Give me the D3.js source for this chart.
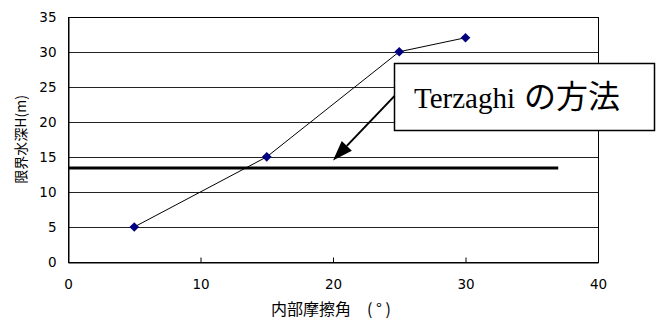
<!DOCTYPE html>
<html>
<head>
<meta charset="utf-8">
<script src="https://cdn.jsdelivr.net/npm/d3@7"></script>
<style>
  html, body { margin: 0; padding: 0; background: #fff; }
  svg { display: block; }
</style>
</head>
<body>
<div id="chart"></div>
<script>
// Internal friction angle (deg) vs critical water depth H (m)
const angles = [5, 15, 25, 30];
const depths = [5, 15, 30, 32];

// Terzaghi method: constant critical depth
const terzaghiDepth = 13.4;
const terzaghiRange = [0, 37];

// Axis ticks
const xTicks = [0, 10, 20, 30, 40];
const yTicks = [0, 5, 10, 15, 20, 25, 30, 35];

// Annotation (data units): callout box and arrow
const calloutText = ["Terzaghi", "の方法"];
const calloutBox = { x0: 24.6, x1: 44.2, y0: 28.4, y1: 18.8 };
const arrowFrom = [24.65, 23.7];
const arrowTo = [20.0, 14.5];

const W = 658, H = 320;
const margin = { left: 68, right: 60, top: 16.7, bottom: 58 };

const svg = d3.select("#chart").append("svg")
  .attr("width", W).attr("height", H);

const x = d3.scaleLinear().domain([0, 40]).range([margin.left, W - margin.right]);
const y = d3.scaleLinear().domain([0, 35]).range([H - margin.bottom, margin.top]);

const tickFont = "'DejaVu Sans', sans-serif";
const cjkFont = "'Noto Sans CJK JP', sans-serif";

// Horizontal gridlines
svg.append("g")
  .selectAll("line")
  .data(yTicks.filter(d => d > 0 && d < 35))
  .join("line")
  .attr("x1", x(0)).attr("x2", x(40))
  .attr("y1", d => Math.round(y(d)) + 0.5).attr("y2", d => Math.round(y(d)) + 0.5)
  .attr("stroke", "#222").attr("stroke-width", 1);

// Plot frame
svg.append("rect")
  .attr("x", Math.round(x(0)) + 0.5).attr("y", Math.round(y(35)) + 0.5)
  .attr("width", Math.round(x(40)) - Math.round(x(0)))
  .attr("height", Math.round(y(0)) - Math.round(y(35)))
  .attr("fill", "none").attr("stroke", "#000").attr("stroke-width", 1);

// X axis
const xAxis = d3.axisBottom(x).tickValues(xTicks).tickSizeInner(-5).tickSizeOuter(0).tickPadding(17);
const gx = svg.append("g")
  .attr("transform", `translate(0,${Math.round(y(0)) + 0.5})`)
  .call(xAxis);
gx.select(".domain").attr("stroke", "#000");
gx.selectAll(".tick line").attr("stroke", "#000");
gx.selectAll("text")
  .attr("font-family", tickFont).attr("font-size", 13.5).attr("fill", "#000");

// Y axis
const yAxis = d3.axisLeft(y).tickValues(yTicks).tickSize(0).tickPadding(12);
const gy = svg.append("g")
  .attr("transform", `translate(${Math.round(x(0)) + 0.5},0)`)
  .call(yAxis);
gy.select(".domain").attr("stroke", "#000");
gy.selectAll("text")
  .attr("font-family", tickFont).attr("font-size", 13.5).attr("fill", "#000");

// Axis titles
svg.append("text")
  .attr("x", 271).attr("y", 315)
  .attr("font-family", cjkFont).attr("font-size", 16).attr("fill", "#000")
  .text("内部摩擦角　( ° )");

svg.append("text")
  .attr("transform", `translate(26,${(y(0) + y(35)) / 2}) rotate(-90)`)
  .attr("text-anchor", "middle")
  .attr("font-family", cjkFont).attr("font-size", 14).attr("fill", "#000")
  .text("限界水深H(m)");

// Terzaghi line
svg.append("line")
  .attr("x1", x(terzaghiRange[0])).attr("x2", x(terzaghiRange[1]))
  .attr("y1", y(terzaghiDepth)).attr("y2", y(terzaghiDepth))
  .attr("stroke", "#000").attr("stroke-width", 3);

// Data series
const pts = angles.map((a, i) => [a, depths[i]]);
svg.append("path")
  .datum(pts)
  .attr("fill", "none").attr("stroke", "#000").attr("stroke-width", 1)
  .attr("d", d3.line().x(d => x(d[0])).y(d => y(d[1])));

svg.append("g")
  .selectAll("path")
  .data(pts)
  .join("path")
  .attr("transform", d => `translate(${x(d[0])},${y(d[1])})`)
  .attr("d", "M0,-4.8L4.8,0L0,4.8L-4.8,0Z")
  .attr("fill", "#000080");

// Callout box
svg.append("rect")
  .attr("x", Math.round(x(calloutBox.x0)) + 0.5)
  .attr("y", Math.round(y(calloutBox.y0)) + 0.5)
  .attr("width", Math.round(x(calloutBox.x1)) - Math.round(x(calloutBox.x0)))
  .attr("height", Math.round(y(calloutBox.y1)) - Math.round(y(calloutBox.y0)))
  .attr("fill", "#fff").attr("stroke", "#000").attr("stroke-width", 1.5);

const label = svg.append("text")
  .attr("x", x(calloutBox.x0) + 20)
  .attr("y", (y(calloutBox.y0) + y(calloutBox.y1)) / 2 + 11)
  .attr("fill", "#000");
label.append("tspan")
  .attr("font-family", "'Liberation Serif', serif").attr("font-size", 29)
  .text(calloutText[0]);
label.append("tspan")
  .attr("dx", 9)
  .attr("font-family", cjkFont).attr("font-size", 32)
  .text(calloutText[1]);

// Arrow
const ax0 = x(arrowFrom[0]), ay0 = y(arrowFrom[1]);
const ax1 = x(arrowTo[0]), ay1 = y(arrowTo[1]);
const ang = Math.atan2(ay1 - ay0, ax1 - ax0);
const headLen = 20, headHalf = 7;
const bx = ax1 - headLen * Math.cos(ang), by = ay1 - headLen * Math.sin(ang);
svg.append("line")
  .attr("x1", ax0).attr("y1", ay0).attr("x2", bx).attr("y2", by)
  .attr("stroke", "#000").attr("stroke-width", 2);
svg.append("path")
  .attr("d", `M${ax1},${ay1}` +
    `L${bx + headHalf * Math.sin(ang)},${by - headHalf * Math.cos(ang)}` +
    `L${bx - headHalf * Math.sin(ang)},${by + headHalf * Math.cos(ang)}Z`)
  .attr("fill", "#000");
</script>
</body>
</html>
